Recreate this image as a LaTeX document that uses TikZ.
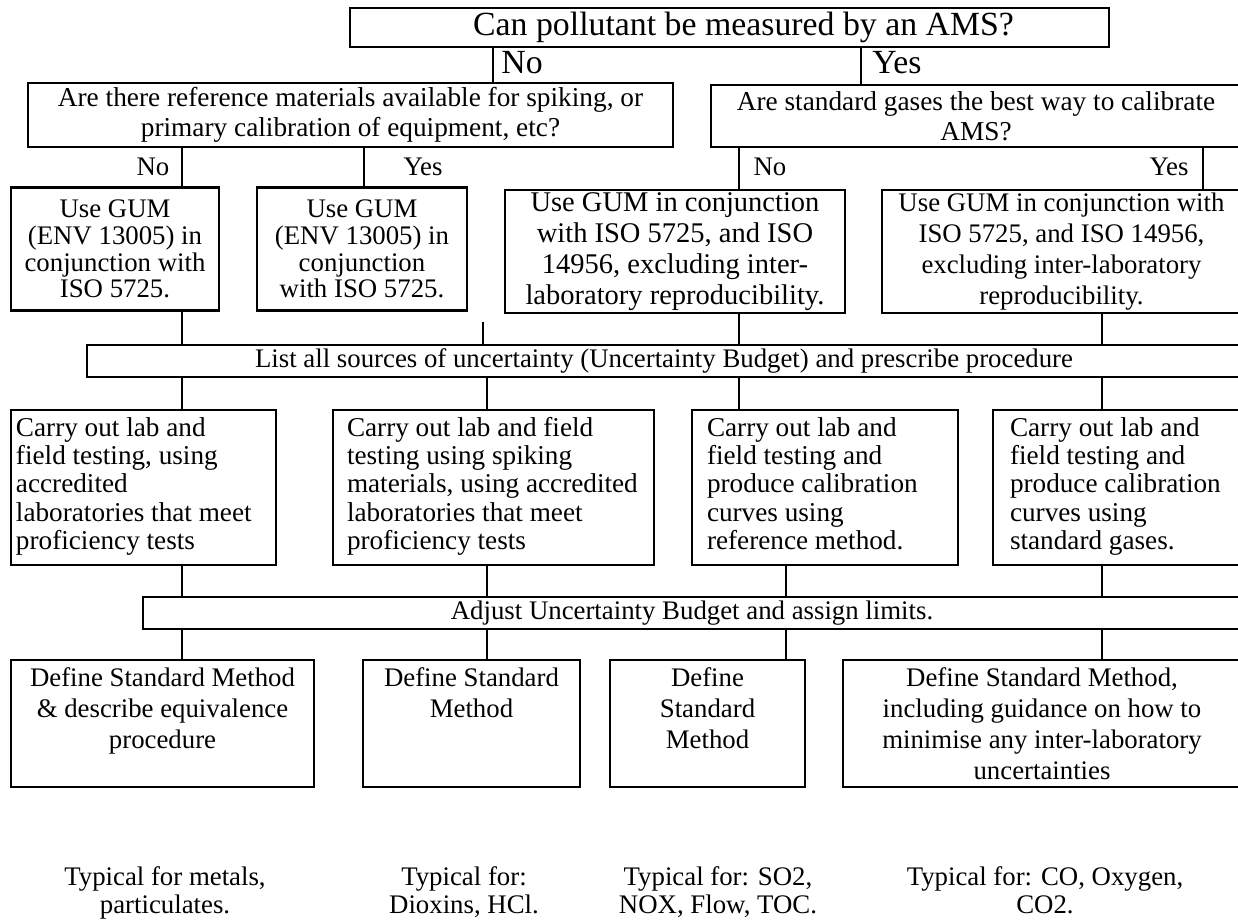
\documentclass[tikz,border=0pt]{standalone}
\usepackage{fontspec}
\setmainfont{Liberation Serif}
\begin{document}
\begin{tikzpicture}[x=1pt,y=-1pt,line width=2.7pt,
  bigfont/.style={font=\fontsize{33.8}{36}\selectfont},
  qbox/.style={draw,inner sep=0pt,align=center,minimum height=#1,font=\fontsize{27.3}{30}\selectfont},
  gumbox/.style={draw,inner sep=0pt,align=center,minimum height=123pt,font=\fontsize{26.8}{26.7}\selectfont},
  bar/.style={draw,inner sep=0pt,minimum height=32pt,font=\fontsize{26.8}{28}\selectfont},
  testbox/.style={draw,align=flush left,inner ysep=0pt,minimum height=155pt,font=\fontsize{27.2}{28.3}\selectfont},
  defbox/.style={draw,inner sep=0pt,minimum height=127pt},
  deftext/.style={align=center,anchor=north,inner sep=0pt,font=\fontsize{26.8}{31}\selectfont},
  answer/.style={inner sep=0pt,font=\fontsize{26.8}{28}\selectfont},
  typical/.style={align=center,inner sep=0pt,text depth=6pt,font=\fontsize{26.8}{28}\selectfont}]
\useasboundingbox (0,0) rectangle (1238,919);
\clip (0,0) rectangle (1238,919);

\coordinate (cA) at (182,0);
\coordinate (cYes) at (364,0);
\coordinate (cB) at (487,0);
\coordinate (cNo0) at (493,0);
\coordinate (cC) at (739,0);
\coordinate (cG) at (786,0);
\coordinate (cYes0) at (861,0);
\coordinate (cH) at (1102,0);
\coordinate (cD) at (1203,0);
\coordinate (stub) at (483,322);

\node[draw,inner sep=0pt,bigfont,minimum width=759pt,minimum height=39pt] (top) at (729.5,27.5) {\hspace*{28pt}Can pollutant be measured by an AMS?};
\node[answer,bigfont] (no0) at (522,63) {No};
\node[answer,bigfont] (yes0) at (897,63) {Yes};

\node[qbox=64pt,minimum width=645pt] (qleft) at (350.5,115) {Are there reference materials available for spiking, or\\primary calibration of equipment, etc?};
\node[qbox=62pt,minimum width=530pt] (qright) at (976,116) {Are standard gases the best way to calibrate\\AMS?};
\node[answer] (no1) at (153,167) {No};
\node[answer] (yes1) at (423,167) {Yes};
\node[answer] (no2) at (770,167) {No};
\node[answer] (yes2) at (1169,167) {Yes};

\node[gumbox,minimum width=208pt] (gumA) at (115,249) {Use GUM\\(ENV 13005) in\\conjunction with\\ISO 5725.};
\node[gumbox,minimum width=210pt] (gumB) at (362,249) {Use GUM\\(ENV 13005) in\\conjunction\\with ISO 5725.};
\node[gumbox,minimum width=340pt,font=\fontsize{28.5}{31}\selectfont] (gumC) at (675,251.5) {Use GUM in conjunction\\with ISO 5725, and ISO\\14956, excluding inter-\\laboratory reproducibility.};
\node[gumbox,minimum width=359pt,font=\fontsize{26.8}{31}\selectfont] (gumD) at (1061.5,251.5) {Use GUM in conjunction with\\ISO 5725, and ISO 14956,\\excluding inter-laboratory\\reproducibility.};

\node[bar,minimum width=1154pt] (list) at (664,361) {List all sources of uncertainty (Uncertainty Budget) and prescribe procedure};

\node[testbox,inner xsep=5pt,text width=255pt] (testE) at (143.5,487.5) {Carry out lab and\\field testing, using\\accredited\\laboratories that meet\\proficiency tests\strut};
\node[testbox,inner xsep=14pt,text width=293pt] (testF) at (493.5,487.5) {Carry out lab and field\\testing using spiking\\materials, using accredited\\laboratories that meet\\proficiency tests\strut};
\node[testbox,inner xsep=15pt,text width=236pt] (testG) at (825,487.5) {Carry out lab and\\field testing and\\produce calibration\\curves using\\reference method.\strut};
\node[testbox,inner xsep=17pt,text width=214pt] (testH) at (1117,487.5) {Carry out lab and\\field testing and\\produce calibration\\curves using\\standard gases.\strut};

\node[bar,minimum width=1098pt] (adjust) at (692,613) {Adjust Uncertainty Budget and assign limits.};

\node[defbox,minimum width=303pt] (defI) at (162.5,723.5) {};
\node[defbox,minimum width=217pt] (defJ) at (471.5,723.5) {};
\node[defbox,minimum width=195pt] (defK) at (707.5,723.5) {};
\node[defbox,minimum width=398pt] (defL) at (1042,723.5) {};
\node[deftext] (defIt) at ([yshift=-8pt]defI.north) {Define Standard Method\\\& describe equivalence\\procedure};
\node[deftext] (defJt) at ([yshift=-8pt]defJ.north) {Define Standard\\Method};
\node[deftext] (defKt) at ([yshift=-8pt]defK.north) {Define\\Standard\\Method};
\node[deftext] (defLt) at ([yshift=-8pt]defL.north) {Define Standard Method,\\including guidance on how to\\minimise any inter-laboratory\\uncertainties};

\node[typical] (typI) at (165,893) {Typical for metals,\\particulates.};
\node[typical] (typJ) at (464,893) {Typical for:\\Dioxins, HCl.};
\node[typical] (typK) at (718,893) {Typical for: SO2,\\NOX, Flow, TOC.};
\node[typical] (typL) at (1045,893) {Typical for: CO, Oxygen,\\CO2.};

\draw (top.south -| cNo0) -- (qleft.north -| cNo0);
\draw (top.south -| cYes0) -- (qright.north -| cYes0);
\draw (qleft.south -| cA) -- (gumA.north -| cA);
\draw (qleft.south -| cYes) -- (gumB.north -| cYes);
\draw (qright.south -| cC) -- (gumC.north -| cC);
\draw (qright.south -| cD) -- (gumD.north -| cD);
\draw (gumA.south -| cA) -- (list.north -| cA);
\draw (stub) -- (list.north -| stub);
\draw (gumC.south -| cC) -- (list.north -| cC);
\draw (gumD.south -| cH) -- (list.north -| cH);
\foreach \c/\n in {cA/testE,cB/testF,cC/testG,cH/testH}
  \draw (list.south -| \c) -- (\n.north -| \c);
\foreach \c/\n in {cA/testE,cB/testF,cG/testG,cH/testH}
  \draw (\n.south -| \c) -- (adjust.north -| \c);
\foreach \c/\n in {cA/defI,cB/defJ,cG/defK,cH/defL}
  \draw (adjust.south -| \c) -- (\n.north -| \c);
\end{tikzpicture}
\end{document}
